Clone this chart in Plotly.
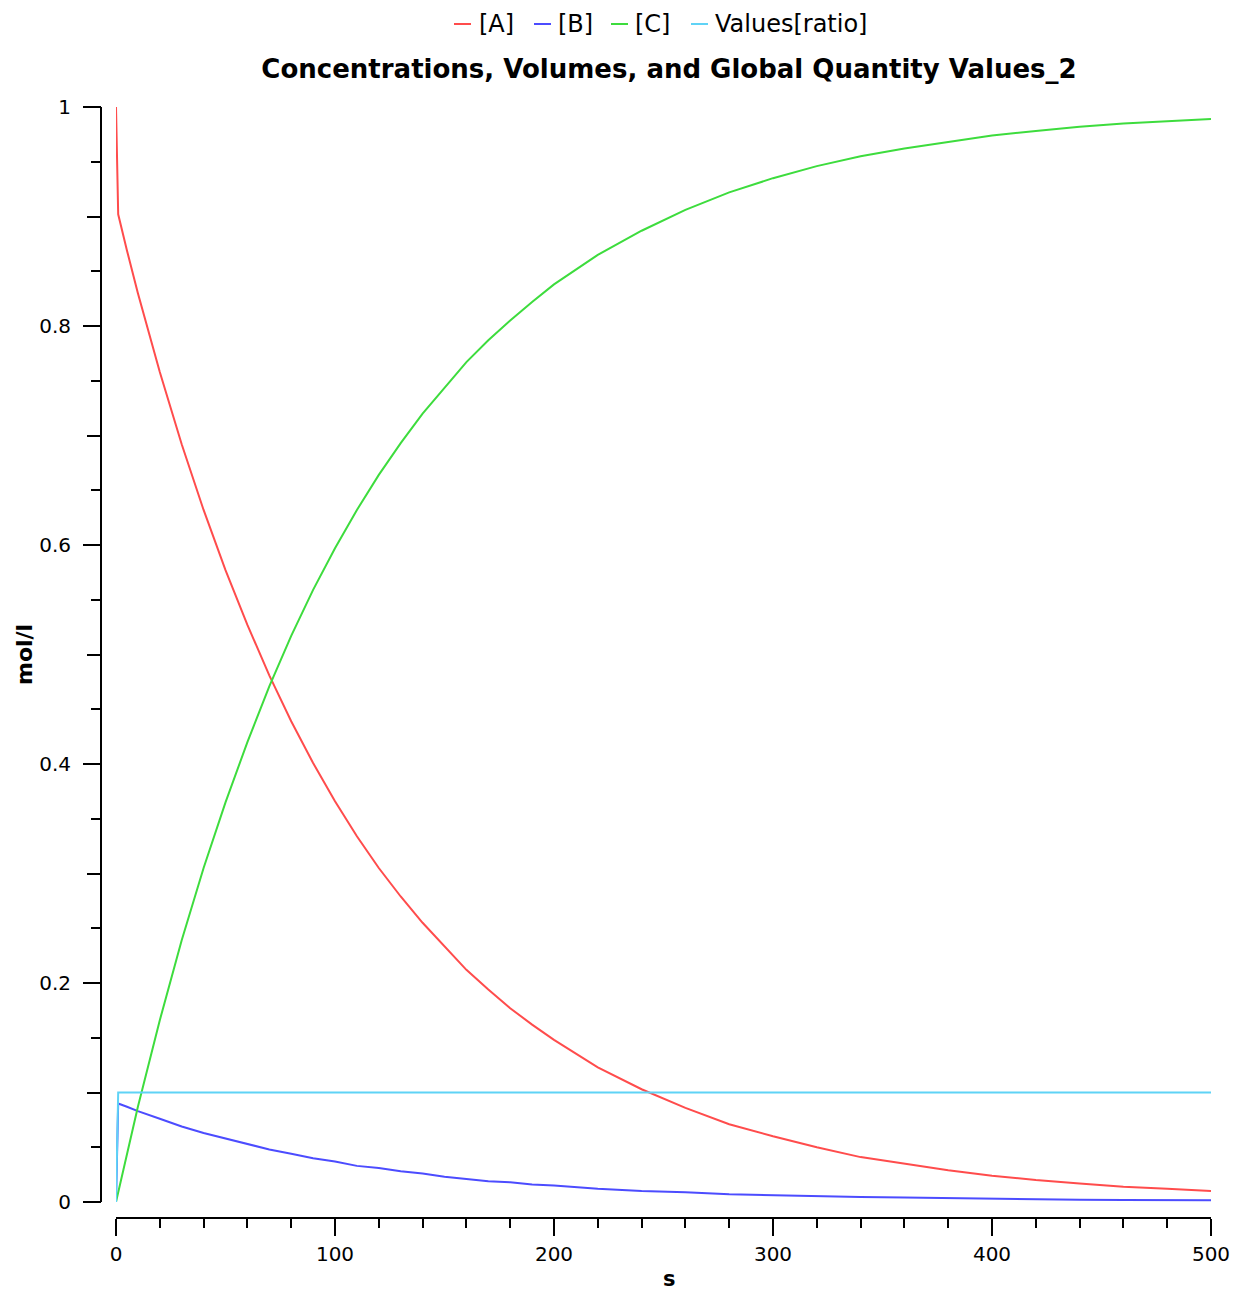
import plotly.graph_objects as go

# Time course (s) and species concentrations (mol/l)
time_s = [0, 1, 5, 10, 20, 30, 40, 50, 60, 70, 80, 90, 100, 110, 120, 130, 140,
          150, 160, 170, 180, 190, 200, 220, 240, 260, 280, 300, 320, 340, 360,
          380, 400, 420, 440, 460, 480, 500]
conc_A = [1.0, 0.902, 0.869, 0.830, 0.758, 0.692, 0.632, 0.577, 0.527, 0.481,
          0.439, 0.401, 0.366, 0.334, 0.305, 0.279, 0.255, 0.233, 0.212, 0.194,
          0.177, 0.162, 0.148, 0.123, 0.103, 0.086, 0.071, 0.060, 0.050, 0.041,
          0.035, 0.029, 0.024, 0.020, 0.017, 0.014, 0.012, 0.010]
conc_B = [0.0, 0.090, 0.087, 0.083, 0.076, 0.069, 0.063, 0.058, 0.053, 0.048,
          0.044, 0.040, 0.037, 0.033, 0.031, 0.028, 0.026, 0.023, 0.021, 0.019,
          0.018, 0.016, 0.015, 0.012, 0.010, 0.009, 0.007, 0.006, 0.005, 0.0045,
          0.004, 0.0035, 0.0025, 0.0022, 0.0020, 0.0018, 0.0016, 0.0015]
conc_C = [0.0, 0.009, 0.044, 0.087, 0.166, 0.239, 0.305, 0.365, 0.420, 0.471,
          0.517, 0.559, 0.597, 0.632, 0.664, 0.693, 0.720, 0.744, 0.767, 0.787,
          0.805, 0.822, 0.838, 0.865, 0.887, 0.906, 0.922, 0.935, 0.946, 0.955,
          0.962, 0.968, 0.974, 0.978, 0.982, 0.985, 0.987, 0.989]
ratio = [0.0] + [0.1] * (len(time_s) - 1)

series_names = ["[A]", "[B]", "[C]", "Values[ratio]"]
series_colors = ["#ff4c4c", "#4c4cff", "#3ddc3d", "#5fd3f6"]

y_major = [0, 0.2, 0.4, 0.6, 0.8, 1]
y_major_text = ["0", "0.2", "0.4", "0.6", "0.8", "1"]
y_mid = [round(0.1 * i, 1) for i in range(11)]

FONT = "DejaVu Sans"
W, H = 1234, 1293
ML, MR, MT, MB = 101, 23, 107, 75
plot_w = W - ML - MR
plot_h = H - MT - MB


def px_x(px):
    """Page pixel column -> paper x."""
    return (px - ML) / plot_w


def px_y(py):
    """Page pixel row -> paper y."""
    return (H - MB - py) / plot_h


fig = go.Figure()
for name, ys, col in zip(series_names, [conc_A, conc_B, conc_C, ratio], series_colors):
    fig.add_trace(go.Scatter(x=time_s, y=ys, name=name, mode="lines",
                             line=dict(color=col, width=2), showlegend=False))
# carrier trace for the overlaid axis holding the long 0.2 ticks
fig.add_trace(go.Scatter(x=[None], y=[None], yaxis="y2", showlegend=False,
                         hoverinfo="skip"))

x_dom0 = 15 / plot_w
y_dom0 = 16 / plot_h

fig.update_layout(
    width=W, height=H,
    margin=dict(l=ML, r=MR, t=MT, b=MB, pad=0, autoexpand=False),
    paper_bgcolor="white", plot_bgcolor="white",
    font=dict(family=FONT, size=20, color="black"),
    title=dict(text="<b>Concentrations, Volumes, and Global Quantity Values_2</b>",
               font=dict(family=FONT, size=26, color="black"),
               xref="container", x=669 / W, xanchor="center",
               yref="container", y=1 - 69 / H, yanchor="middle"),
    xaxis=dict(domain=[x_dom0, 1], anchor="free", position=0, automargin=False,
               range=[0, 500], tickmode="linear", tick0=0, dtick=100,
               ticks="outside", ticklen=17, tickwidth=2, tickcolor="black",
               showline=True, linewidth=2, linecolor="black",
               showgrid=False, zeroline=False,
               tickfont=dict(family=FONT, size=20, color="black"),
               ticklabelstandoff=1,
               minor=dict(dtick=20, tick0=0, ticks="outside", ticklen=9,
                          tickwidth=2, tickcolor="black", showgrid=False)),
    yaxis=dict(domain=[y_dom0, 1], anchor="free", position=0, automargin=False,
               range=[0, 1], tickmode="array", tickvals=y_mid,
               showticklabels=False,
               ticks="outside", ticklen=13, tickwidth=2, tickcolor="black",
               showline=True, linewidth=2, linecolor="black",
               showgrid=False, zeroline=False,
               minor=dict(dtick=0.05, tick0=0, ticks="outside", ticklen=9,
                          tickwidth=2, tickcolor="black", showgrid=False)),
    yaxis2=dict(overlaying="y", anchor="free", position=0, side="left",
                automargin=False,
                range=[0, 1], tickmode="array", tickvals=y_major,
                ticktext=y_major_text,
                ticks="outside", ticklen=18, tickwidth=2, tickcolor="black",
                showline=False, showgrid=False, zeroline=False,
                tickfont=dict(family=FONT, size=20, color="black"),
                ticklabelstandoff=8),
)

# axis titles
fig.add_annotation(text="<b>s</b>", xref="paper", yref="paper",
                   x=px_x(669), y=px_y(1279), xanchor="center", yanchor="middle",
                   showarrow=False, font=dict(family=FONT, size=21, color="black"))
fig.add_annotation(text="<b>mol/l</b>", xref="paper", yref="paper",
                   x=px_x(24), y=px_y(655), xanchor="center", yanchor="middle",
                   textangle=-90, showarrow=False,
                   font=dict(family=FONT, size=22, color="black"))

# legend row above the title: short coloured dash followed by the series name
legend_dash_x = [(454, 471), (534, 551), (611, 628), (691, 708)]
legend_text_x = [479, 558, 635, 715]
legend_y = 24
for name, col, (d0, d1), tx in zip(series_names, series_colors, legend_dash_x, legend_text_x):
    fig.add_shape(type="line", xref="paper", yref="paper",
                  x0=px_x(d0), x1=px_x(d1), y0=px_y(legend_y), y1=px_y(legend_y),
                  line=dict(color=col, width=2))
    fig.add_annotation(text=name, xref="paper", yref="paper",
                       x=px_x(tx), y=px_y(legend_y), xanchor="left", yanchor="middle",
                       showarrow=False, xshift=-2,
                       font=dict(family=FONT, size=24, color="black"))

fig.write_html("out.html")
